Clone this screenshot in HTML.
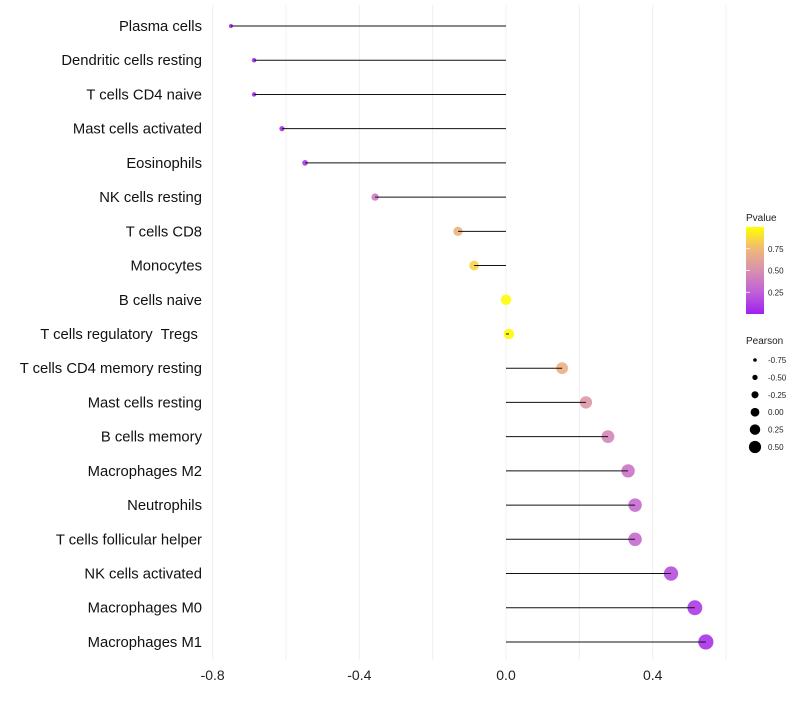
<!DOCTYPE html>
<html><head><meta charset="utf-8"><style>
body{margin:0;background:#fff;font-family:"Liberation Sans",sans-serif}
text{white-space:pre}
</style></head><body>
<svg id="chart" width="800" height="700" xmlns="http://www.w3.org/2000/svg">
<defs><linearGradient id="pg" x1="0" y1="1" x2="0" y2="0">
<stop offset="0" stop-color="#a020f0"/><stop offset="0.25" stop-color="#c060d8"/><stop offset="0.5" stop-color="#d890b0"/><stop offset="0.75" stop-color="#f0b878"/><stop offset="1" stop-color="#ffff00"/></linearGradient></defs>
<g id="grid"></g><g id="marks"></g><g id="ylabels"></g><g id="xlabels"></g>
<g id="legend">
<text x="746" y="221" font-size="10" fill="#222">Pvalue</text>
<rect x="746" y="227" width="18" height="87" fill="url(#pg)"/>
<g id="cbticks"></g>
<text x="746" y="344" font-size="10" fill="#222">Pearson</text>
<g id="sizeleg"></g>
</g>
</svg>
<script>
const categories=["Plasma cells","Dendritic cells resting","T cells CD4 naive","Mast cells activated","Eosinophils","NK cells resting","T cells CD8","Monocytes","B cells naive","T cells regulatory  Tregs ","T cells CD4 memory resting","Mast cells resting","B cells memory","Macrophages M2","Neutrophils","T cells follicular helper","NK cells activated","Macrophages M0","Macrophages M1"];
const pearson=[-0.75,-0.687,-0.687,-0.611,-0.548,-0.357,-0.131,-0.087,0.0,0.008,0.153,0.218,0.278,0.333,0.352,0.352,0.45,0.515,0.545];
const pvalues=[0.03,0.04,0.04,0.06,0.10,0.40,0.72,0.85,0.99,0.98,0.70,0.55,0.45,0.35,0.30,0.30,0.18,0.10,0.07];
const xTicks=[-0.8,-0.4,0.0,0.4];
const xGrid=[-0.8,-0.6,-0.4,-0.2,0,0.2,0.4,0.6];
const cbTicks=[0.25,0.5,0.75];
const sizeTicks=[-0.75,-0.5,-0.25,0,0.25,0.5];
const NS="http://www.w3.org/2000/svg";
const x=v=>506+v*366.7;
const y=i=>26+i*34.22;
const r=v=>2+(v+0.75)/1.3*5.6;
const rl=v=>1.8+(v+0.75)/1.25*4.3;
const stops=[[0,[160,32,240]],[0.25,[192,96,216]],[0.5,[216,144,176]],[0.75,[240,184,120]],[1,[255,255,0]]];
function col(p){p=Math.max(0,Math.min(1,p));for(let k=1;k<stops.length;k++){if(p<=stops[k][0]){const a=stops[k-1],b=stops[k],t=(p-a[0])/(b[0]-a[0]);return"rgb("+a[1].map((c,j)=>Math.round(c+(b[1][j]-c)*t)).join(",")+")";}}}
function mk(tag,at,par){const e=document.createElementNS(NS,tag);for(const k in at)e.setAttribute(k,at[k]);document.getElementById(par).appendChild(e);return e;}
xGrid.forEach(v=>{const l=mk("line",{x1:x(v),x2:x(v),y1:5,y2:660,stroke:"#f0f0f0","stroke-width":1},"grid");

});
xTicks.forEach(v=>{const t=mk("text",{x:x(v),y:680,"font-size":14,"text-anchor":"middle",fill:"#222"},"xlabels");t.textContent=v.toFixed(1);

});
categories.forEach((c,i)=>{
const t=mk("text",{x:202,y:y(i)+5,"font-size":14.8,"text-anchor":"end",fill:"#111"},"ylabels");t.textContent=c;


const cc=mk("circle",{cx:x(pearson[i]),cy:y(i),r:r(pearson[i]),fill:col(pvalues[i]),"fill-opacity":0.9},"marks");


const l=mk("line",{x1:x(0),x2:x(pearson[i]),y1:y(i),y2:y(i),stroke:"#111","stroke-width":1},"marks");


});
cbTicks.forEach(v=>{const yy=314-v*87;
const tk=mk("line",{x1:746,x2:750,y1:yy,y2:yy,stroke:"#fff","stroke-width":0.8},"cbticks");


const t=mk("text",{x:768,y:yy+3,"font-size":8,fill:"#222"},"cbticks");t.textContent=v.toFixed(2);

});
sizeTicks.forEach((v,k)=>{const yy=360+k*17.4;
const c=mk("circle",{cx:755,cy:yy,r:rl(v),fill:"#000"},"sizeleg");


const t=mk("text",{x:768,y:yy+3,"font-size":8,fill:"#222"},"sizeleg");t.textContent=v.toFixed(2);

});
</script>
</body></html>
